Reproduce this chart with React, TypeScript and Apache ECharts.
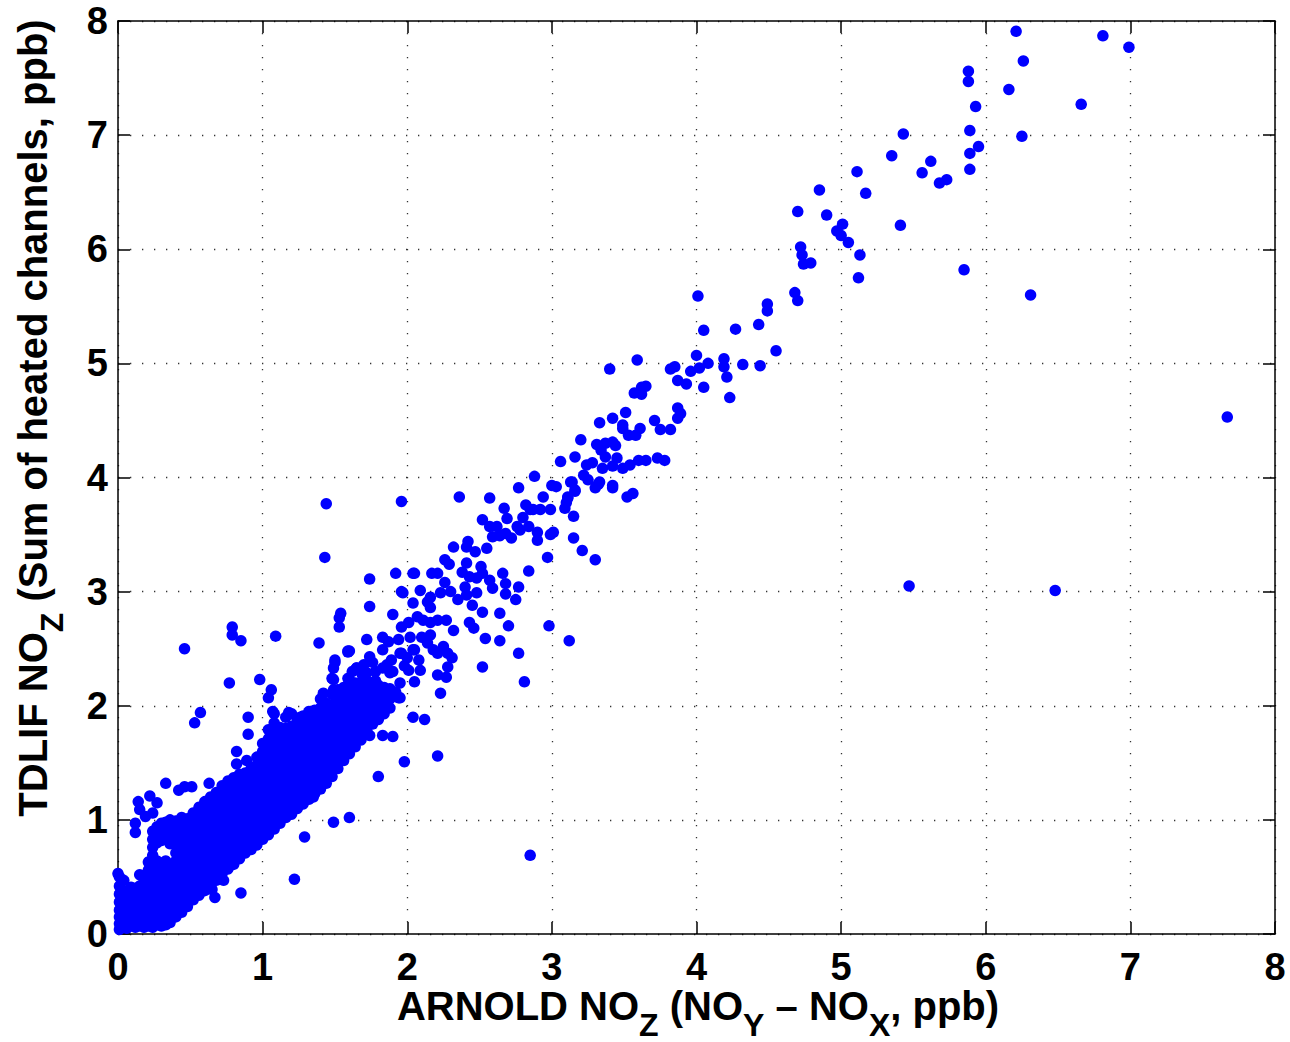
import React, { useEffect, useRef } from "react";
import * as echarts from "echarts";

// Axis ticks (both axes 0..8, step 1)
const axisMin = 0;
const axisMax = 8;
const axisStep = 1;

// Sparse upper part of the cloud (x, y) in ppb
const upperPoints: number[][] = [
  [6.21, 7.91], [6.81, 7.87], [6.99, 7.77], [5.88, 7.56], [5.88, 7.47], [6.26, 7.65], [6.16, 7.40], [5.93, 7.25],
  [6.66, 7.27], [5.43, 7.01], [5.89, 7.04], [6.25, 6.99], [5.95, 6.90], [5.89, 6.84], [5.35, 6.82], [5.62, 6.77],
  [5.56, 6.67], [5.89, 6.70], [5.11, 6.68], [5.73, 6.61], [5.68, 6.58], [5.17, 6.49], [4.85, 6.52], [4.70, 6.33],
  [4.90, 6.30], [5.41, 6.21], [5.01, 6.22], [4.97, 6.16], [5.00, 6.12], [5.05, 6.06], [4.72, 6.02], [4.73, 5.95],
  [5.13, 5.95], [4.74, 5.87], [4.79, 5.88], [5.85, 5.82], [5.12, 5.75], [6.31, 5.60], [4.01, 5.59], [4.68, 5.62],
  [4.70, 5.55], [4.49, 5.52], [4.49, 5.46], [4.05, 5.29], [4.27, 5.30], [4.43, 5.34], [4.55, 5.11], [3.59, 5.03],
  [4.00, 5.07], [4.19, 5.04], [4.19, 4.97], [4.21, 4.88], [4.23, 4.70], [4.32, 4.99], [4.44, 4.98], [4.08, 5.00],
  [4.02, 4.96], [4.05, 4.79], [3.96, 4.93], [3.93, 4.82], [3.87, 4.85], [3.85, 4.97], [3.82, 4.95], [3.40, 4.95],
  [3.65, 4.80], [3.62, 4.79], [3.57, 4.74], [3.62, 4.73], [3.87, 4.61], [3.89, 4.56], [3.87, 4.52], [3.71, 4.50],
  [3.75, 4.42], [3.82, 4.42], [3.51, 4.57], [3.42, 4.52], [3.33, 4.48], [3.49, 4.46], [3.49, 4.43], [3.53, 4.37],
  [3.58, 4.37], [3.61, 4.43], [3.20, 4.33], [3.06, 4.14], [3.16, 4.18], [3.31, 4.29], [3.37, 4.30], [3.42, 4.31],
  [3.44, 4.28], [3.34, 4.24], [3.37, 4.18], [3.45, 4.17], [3.24, 4.11], [3.28, 4.13], [3.35, 4.08], [3.42, 4.10],
  [3.49, 4.08], [3.54, 4.11], [3.60, 4.15], [3.65, 4.15], [3.73, 4.17], [3.78, 4.15], [3.22, 4.02], [3.25, 3.98],
  [3.33, 3.96], [3.14, 3.96], [3.16, 3.89], [3.11, 3.83], [3.10, 3.78], [3.30, 3.91], [3.32, 3.94], [3.42, 3.93],
  [3.42, 3.91], [3.52, 3.83], [3.56, 3.86],
];

// Middle part of the cloud (x 1.4 .. 3.3)
const midPoints: number[][] = [
  [2.88, 4.01], [2.77, 3.91], [3.00, 3.93], [3.03, 3.92], [2.94, 3.83], [2.99, 3.72], [2.92, 3.72], [2.87, 3.72],
  [2.57, 3.82], [2.36, 3.83], [1.96, 3.79], [2.67, 3.73], [2.69, 3.64], [2.82, 3.76], [2.85, 3.72], [2.80, 3.65],
  [2.76, 3.57], [2.52, 3.63], [2.57, 3.57], [2.62, 3.57], [2.59, 3.48], [2.55, 3.38], [2.64, 3.49], [2.68, 3.51],
  [2.72, 3.47], [2.78, 3.54], [2.84, 3.57], [2.90, 3.52], [2.99, 3.50], [3.01, 3.52], [2.90, 3.45], [2.97, 3.30],
  [2.84, 3.18], [3.15, 3.47], [3.21, 3.36], [3.30, 3.28], [3.09, 3.73], [3.15, 3.66], [3.11, 3.82], [3.16, 3.88],
  [3.13, 3.96], [2.32, 3.39], [2.41, 3.39], [2.42, 3.44], [2.47, 3.35], [2.41, 3.25], [2.26, 3.28], [2.29, 3.24],
  [2.51, 3.22], [2.52, 3.16], [2.57, 3.10], [2.59, 3.03], [2.66, 3.16], [2.68, 3.07], [2.68, 2.98], [2.77, 3.04],
  [2.75, 2.93], [2.38, 3.17], [2.43, 3.13], [2.48, 3.12], [2.40, 3.04], [2.41, 2.97], [2.35, 2.93], [2.48, 2.99],
  [2.45, 2.88], [2.52, 2.82], [2.21, 3.16], [2.17, 3.16], [2.26, 3.08], [2.30, 3.00], [2.23, 2.99], [2.16, 2.95],
  [2.14, 2.91], [2.16, 2.86], [2.04, 2.90], [2.09, 3.01], [2.04, 3.16], [1.97, 2.99], [1.92, 3.16], [1.74, 3.11],
  [1.74, 2.87], [1.54, 2.81], [1.53, 2.77], [1.53, 2.69], [1.90, 2.80], [1.96, 2.69], [2.01, 2.73], [2.07, 2.78],
  [2.11, 2.75], [2.16, 2.73], [2.21, 2.75], [2.27, 2.75], [2.32, 2.66], [2.43, 2.73], [2.46, 2.68], [2.64, 2.81],
  [2.70, 2.70], [2.54, 2.59], [2.64, 2.57], [2.98, 2.70], [3.12, 2.57], [2.81, 2.21], [2.77, 2.46], [2.52, 2.34],
  [2.23, 2.11], [1.72, 2.58], [1.59, 2.48], [1.83, 2.60], [1.87, 2.56], [1.94, 2.58], [2.02, 2.60], [2.05, 2.49],
  [1.96, 2.46], [2.14, 2.55], [2.18, 2.49], [2.21, 2.46], [2.25, 2.52], [2.28, 2.46], [2.31, 2.42], [2.28, 2.34],
  [2.27, 2.25], [2.21, 2.27], [2.05, 2.21], [2.09, 2.31], [2.01, 2.31], [1.95, 2.20], [1.88, 2.29], [1.83, 2.33],
  [1.78, 2.30], [1.74, 2.43], [1.76, 2.38], [1.65, 2.33], [1.69, 2.27], [1.59, 2.24], [1.60, 2.16], [1.50, 2.40],
  [1.49, 2.33], [1.48, 2.24], [1.49, 2.14], [1.54, 2.08], [1.60, 2.05], [1.67, 2.11], [1.72, 2.08], [1.76, 1.96],
  [1.86, 2.07], [1.93, 2.08], [1.95, 2.07], [2.04, 1.90], [2.12, 1.88], [2.05, 3.16], [1.96, 3.00], [1.39, 2.55],
  [1.60, 2.48], [1.62, 2.30], [1.70, 2.36], [1.78, 2.22], [1.84, 2.15], [1.90, 2.30], [1.98, 2.35], [1.80, 2.05],
  [1.66, 2.00], [1.74, 2.12], [1.86, 2.36], [1.92, 2.12], [2.00, 2.42], [2.08, 2.40], [2.10, 2.60], [2.16, 2.62],
  [1.83, 2.49], [1.89, 2.40], [1.95, 2.46], [2.04, 2.49],
];

// Isolated points and the ragged edge of the dense band
const outlierPoints: number[][] = [
  [0.46, 2.50], [0.79, 2.69], [0.79, 2.62], [0.85, 2.57], [1.09, 2.61], [0.77, 2.20], [0.98, 2.23], [1.06, 2.14],
  [1.04, 2.07], [0.57, 1.94], [0.53, 1.85], [0.90, 1.90], [0.90, 1.75], [0.82, 1.60], [0.82, 1.49], [0.89, 1.52],
  [0.33, 1.32], [0.42, 1.26], [0.46, 1.29], [0.51, 1.29], [0.63, 1.32], [0.14, 1.16], [0.22, 1.21], [0.27, 1.15],
  [0.15, 1.09], [0.24, 1.06], [0.19, 1.03], [0.12, 0.97], [0.12, 0.89], [0.15, 0.52], [0.00, 0.53], [0.04, 0.47],
  [0.65, 0.39], [0.67, 0.32], [0.73, 0.47], [0.85, 0.36], [1.22, 0.48], [1.29, 0.85], [1.35, 1.20], [1.46, 1.38],
  [1.49, 0.98], [1.60, 1.02], [1.80, 1.38], [1.98, 1.51], [2.21, 1.56], [1.74, 1.74], [1.83, 1.74], [1.90, 1.73],
  [1.50, 2.38], [1.49, 2.23], [2.85, 0.69], [5.47, 3.05], [6.48, 3.01], [7.67, 4.53], [1.44, 3.77], [1.43, 3.30],
  [1.07, 1.95], [1.18, 1.94], [1.26, 1.90], [1.36, 1.96], [1.42, 2.11], [1.50, 2.11], [1.59, 2.47], [1.65, 2.33],
  [1.72, 2.29], [1.72, 1.90], [1.76, 1.97], [1.87, 2.07], [1.94, 2.07],
];

// Dense band near the origin, read column by column: [x, [y values]]
const bandColumns: [number, number[]][] = [
  [0.01, [0.04, 0.09, 0.15, 0.21, 0.28, 0.35, 0.42, 0.50]],
  [0.03, [0.06, 0.12, 0.18, 0.25, 0.32, 0.47]],
  [0.06, [0.05, 0.11, 0.17, 0.24, 0.31, 0.38]],
  [0.09, [0.07, 0.13, 0.20, 0.27, 0.34, 0.41]],
  [0.12, [0.06, 0.12, 0.19, 0.26, 0.33, 0.40]],
  [0.15, [0.07, 0.14, 0.21, 0.28, 0.35, 0.42]],
  [0.18, [0.06, 0.13, 0.20, 0.27, 0.34, 0.41, 0.48]],
  [0.21, [0.07, 0.14, 0.21, 0.28, 0.35, 0.42, 0.49, 0.56, 0.63]],
  [0.24, [0.06, 0.13, 0.20, 0.27, 0.34, 0.41, 0.48, 0.55, 0.62, 0.69, 0.76, 0.83, 0.90]],
  [0.27, [0.08, 0.15, 0.22, 0.29, 0.36, 0.43, 0.50, 0.57, 0.64, 0.80, 0.87, 0.94]],
  [0.30, [0.07, 0.14, 0.21, 0.28, 0.35, 0.42, 0.49, 0.56, 0.62, 0.82, 0.89, 0.97]],
  [0.33, [0.08, 0.15, 0.22, 0.29, 0.36, 0.43, 0.50, 0.57, 0.64, 0.84, 0.91, 0.98]],
  [0.36, [0.10, 0.17, 0.24, 0.31, 0.38, 0.45, 0.52, 0.59, 0.79, 0.86, 0.93, 1.00]],
  [0.40, [0.15, 0.22, 0.29, 0.36, 0.43, 0.50, 0.57, 0.64, 0.71, 0.78, 0.85, 0.92, 0.99]],
  [0.44, [0.19, 0.26, 0.33, 0.40, 0.47, 0.54, 0.61, 0.68, 0.75, 0.82, 0.89, 0.96, 1.02]],
  [0.48, [0.24, 0.31, 0.38, 0.45, 0.52, 0.59, 0.66, 0.73, 0.80, 0.87, 0.94, 1.01]],
  [0.52, [0.30, 0.37, 0.44, 0.51, 0.58, 0.65, 0.72, 0.79, 0.86, 0.93, 1.00, 1.06]],
  [0.56, [0.34, 0.41, 0.48, 0.55, 0.62, 0.69, 0.76, 0.83, 0.90, 0.97, 1.04, 1.11]],
  [0.60, [0.38, 0.45, 0.52, 0.59, 0.66, 0.73, 0.80, 0.87, 0.94, 1.01, 1.08, 1.16]],
  [0.64, [0.43, 0.50, 0.57, 0.64, 0.71, 0.78, 0.85, 0.92, 0.99, 1.06, 1.13, 1.20]],
  [0.68, [0.47, 0.54, 0.61, 0.68, 0.75, 0.82, 0.89, 0.96, 1.03, 1.10, 1.17, 1.24]],
  [0.72, [0.53, 0.60, 0.67, 0.74, 0.81, 0.88, 0.95, 1.02, 1.09, 1.16, 1.23, 1.30]],
  [0.76, [0.57, 0.64, 0.71, 0.78, 0.85, 0.92, 0.99, 1.06, 1.13, 1.20, 1.27, 1.34]],
  [0.80, [0.61, 0.68, 0.75, 0.82, 0.89, 0.96, 1.03, 1.10, 1.17, 1.24, 1.31, 1.37]],
  [0.84, [0.66, 0.73, 0.80, 0.87, 0.94, 1.01, 1.08, 1.15, 1.22, 1.29, 1.36, 1.40]],
  [0.88, [0.71, 0.78, 0.85, 0.92, 0.99, 1.06, 1.13, 1.20, 1.27, 1.34, 1.41]],
  [0.92, [0.74, 0.81, 0.88, 0.95, 1.02, 1.09, 1.16, 1.23, 1.30, 1.37, 1.45]],
  [0.96, [0.78, 0.85, 0.92, 0.99, 1.06, 1.13, 1.20, 1.27, 1.34, 1.41, 1.48, 1.55]],
  [1.00, [0.83, 0.90, 0.97, 1.04, 1.11, 1.18, 1.25, 1.32, 1.39, 1.46, 1.53, 1.60, 1.67]],
  [1.04, [0.87, 0.94, 1.01, 1.08, 1.15, 1.22, 1.29, 1.36, 1.43, 1.50, 1.57, 1.64, 1.71, 1.79]],
  [1.08, [0.92, 0.99, 1.06, 1.13, 1.20, 1.27, 1.34, 1.41, 1.48, 1.55, 1.62, 1.69, 1.76, 1.85, 1.93]],
  [1.12, [0.97, 1.04, 1.11, 1.18, 1.25, 1.32, 1.39, 1.46, 1.53, 1.60, 1.67, 1.74, 1.81]],
  [1.16, [1.02, 1.09, 1.16, 1.23, 1.30, 1.37, 1.44, 1.51, 1.58, 1.65, 1.72, 1.80, 1.90]],
  [1.20, [1.05, 1.12, 1.19, 1.26, 1.33, 1.40, 1.47, 1.54, 1.61, 1.68, 1.75, 1.82, 1.93]],
  [1.24, [1.10, 1.17, 1.24, 1.31, 1.38, 1.45, 1.52, 1.59, 1.66, 1.73, 1.80, 1.88]],
  [1.28, [1.14, 1.21, 1.28, 1.35, 1.42, 1.49, 1.56, 1.63, 1.70, 1.77, 1.84, 1.91]],
  [1.32, [1.18, 1.25, 1.32, 1.39, 1.46, 1.53, 1.60, 1.67, 1.74, 1.81, 1.88, 1.95]],
  [1.36, [1.23, 1.30, 1.37, 1.44, 1.51, 1.58, 1.65, 1.72, 1.79, 1.86, 1.93]],
  [1.40, [1.27, 1.34, 1.41, 1.48, 1.55, 1.62, 1.69, 1.76, 1.83, 1.90, 1.98, 2.06]],
  [1.44, [1.32, 1.39, 1.46, 1.53, 1.60, 1.67, 1.74, 1.81, 1.88, 1.95, 2.02]],
  [1.48, [1.38, 1.45, 1.52, 1.59, 1.66, 1.73, 1.80, 1.87, 1.94, 2.01, 2.10]],
  [1.52, [1.45, 1.52, 1.59, 1.66, 1.73, 1.80, 1.87, 1.94, 2.01, 2.08, 2.14]],
  [1.56, [1.52, 1.59, 1.66, 1.73, 1.80, 1.87, 1.94, 2.01, 2.08, 2.16]],
  [1.60, [1.58, 1.65, 1.72, 1.79, 1.86, 1.93, 2.00, 2.07, 2.15, 2.23]],
  [1.64, [1.64, 1.71, 1.78, 1.85, 1.92, 1.99, 2.06, 2.13, 2.20]],
  [1.68, [1.70, 1.77, 1.84, 1.91, 1.98, 2.05, 2.12, 2.20, 2.30]],
  [1.72, [1.78, 1.85, 1.92, 1.99, 2.06, 2.14, 2.22]],
  [1.76, [1.84, 1.91, 1.98, 2.05, 2.12, 2.20]],
  [1.80, [1.88, 1.95, 2.02, 2.09, 2.18]],
  [1.84, [1.93, 2.00, 2.08, 2.16]],
  [1.88, [1.98, 2.06, 2.15]],
];

const xTitleMain = ["ARNOLD NO", " (NO", " \u2013 NO", ", ppb)"];
const xTitleSubs = ["Z", "Y", "X"];
const yTitleMain = ["TDLIF NO", " (Sum of heated channels, ppb)"];
const yTitleSubs = ["Z"];

const FONT = "'Liberation Sans', Arial, Helvetica, sans-serif";

export default function App() {
  const ref = useRef<HTMLDivElement>(null);

  useEffect(() => {
    if (!ref.current) return;
    const chart = echarts.init(ref.current, null, { renderer: "svg" });

    const bandPoints = bandColumns.flatMap(([x, ys]) => ys.map((y) => [x, y]));
    const data = [...bandPoints, ...midPoints, ...upperPoints, ...outlierPoints];

    const rich = {
      m: { fontSize: 40, fontWeight: "bold", fontFamily: FONT, lineHeight: 70, fill: "#000" },
      s: { fontSize: 32, fontWeight: "bold", fontFamily: FONT, lineHeight: 26, verticalAlign: "bottom", fill: "#000" },
    };
    const xTitle =
      `{m|${xTitleMain[0]}}{s|${xTitleSubs[0]}}{m|${xTitleMain[1]}}{s|${xTitleSubs[1]}}` +
      `{m|${xTitleMain[2]}}{s|${xTitleSubs[2]}}{m|${xTitleMain[3]}}`;
    const yTitle = `{m|${yTitleMain[0]}}{s|${yTitleSubs[0]}}{m|${yTitleMain[1]}}`;

    const lineStyle = { color: "#000", width: 1.5 };
    const labelStyle = { fontSize: 38, fontWeight: "bold", color: "#000", fontFamily: FONT };
    const splitLine = { show: true, lineStyle: { color: "#333", width: 1.3, type: [1.3, 10.7] } };

    const baseAxis = {
      type: "value",
      min: axisMin,
      max: axisMax,
      interval: axisStep,
      axisLine: { show: true, onZero: false, lineStyle },
      axisTick: { show: true, inside: true, length: 12, lineStyle },
    };

    chart.setOption({
      animation: false,
      backgroundColor: "#fff",
      grid: { left: 118, right: 15, top: 21, bottom: 108, containLabel: false },
      xAxis: [
        { ...baseAxis, position: "bottom", axisLabel: { ...labelStyle, margin: 14 }, splitLine },
        { ...baseAxis, position: "top", axisLabel: { show: false }, splitLine: { show: false } },
      ],
      yAxis: [
        { ...baseAxis, position: "left", axisLabel: { ...labelStyle, margin: 10 }, splitLine },
        { ...baseAxis, position: "right", axisLabel: { show: false }, splitLine: { show: false } },
      ],
      series: [
        {
          type: "scatter",
          xAxisIndex: 0,
          yAxisIndex: 0,
          data,
          symbol: "circle",
          symbolSize: 11.5,
          itemStyle: { color: "#0000ff", opacity: 1 },
          silent: true,
          large: false,
          progressive: 0,
        },
      ],
      graphic: [
        {
          type: "text",
          x: 698,
          y: 1006,
          style: { text: xTitle, rich, align: "center", verticalAlign: "middle" },
        },
        {
          type: "text",
          x: 33,
          y: 418,
          rotation: Math.PI / 2,
          style: { text: yTitle, rich, align: "center", verticalAlign: "middle" },
        },
      ],
    });

    return () => chart.dispose();
  }, []);

  return (
    <div
      ref={ref}
      style={{ position: "fixed", left: 0, top: 0, width: 1290, height: 1042, background: "#fff" }}
    />
  );
}
